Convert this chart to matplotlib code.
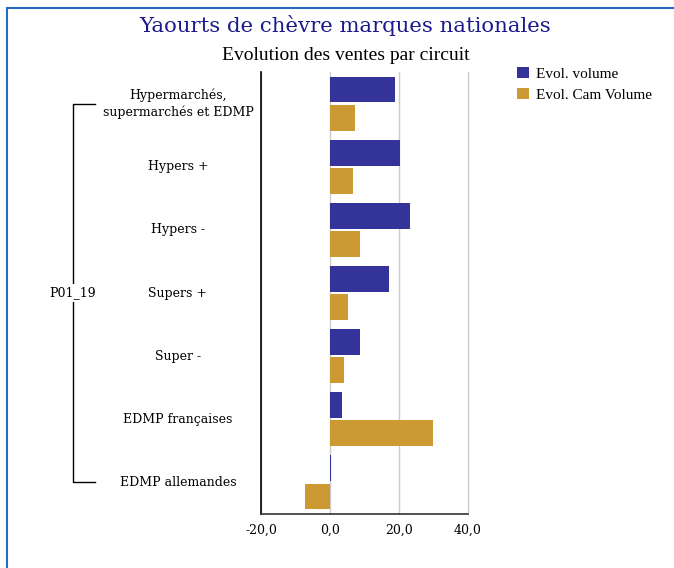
import numpy as np
import matplotlib
matplotlib.use("Agg")
import matplotlib.pyplot as plt
from matplotlib.patches import Rectangle, Patch
from matplotlib.lines import Line2D
import matplotlib.transforms as mtransforms

categories = ["Hypermarchés,\nsupermarchés et EDMP", "Hypers +", "Hypers -",
              "Supers +", "Super -", "EDMP françaises", "EDMP allemandes"]
evol_volume = [18.8, 20.2, 23.1, 17.1, 8.7, 3.5, 0.3]
evol_cam_volume = [7.2, 6.6, 8.7, 5.2, 4.0, 29.8, -7.2]
series_names = ["Evol. volume", "Evol. Cam Volume"]
group_name = "P01_19"
xticks = [-20, 0, 20, 40]
xtick_labels = ["-20,0", "0,0", "20,0", "40,0"]

blue = "#333399"
gold = "#cc9933"
title_col = "#1a1a8c"

fig = plt.figure(figsize=(6.74, 5.68), dpi=100)
W, H = 674, 568

def fx(px):
    return px / W

def fy(py):
    return 1 - py / H

ax = fig.add_axes([fx(261), fy(514), fx(468) - fx(261), fy(72) - fy(514)])

y = np.arange(len(categories))
h = 0.41
ax.barh(y - 0.222, evol_volume, height=h, color=blue, zorder=3)
ax.barh(y + 0.222, evol_cam_volume, height=h, color=gold, zorder=3)

ax.set_xlim(-20, 40)
ax.set_ylim(len(categories) - 0.5, -0.5)
ax.set_xticks(xticks)
ax.set_xticklabels(xtick_labels, family="DejaVu Serif", fontsize=9)
ax.tick_params(axis="x", length=0, pad=7)
ax.set_yticks([])
ax.grid(axis="x", color="#cccccc", linewidth=1, zorder=0)
for gl in ax.get_xgridlines():
    gl.set_clip_on(False)
for s in ["top", "right"]:
    ax.spines[s].set_visible(False)
ax.spines["left"].set_color("black")
ax.spines["bottom"].set_color("#333333")
ax.spines["left"].set_linewidth(1.2)
ax.spines["bottom"].set_linewidth(1.2)

# category labels and bracket
tr = mtransforms.blended_transform_factory(fig.transFigure, ax.transData)
for i, c in enumerate(categories):
    fig.text(fx(178), i, c, transform=tr, ha="center", va="center",
             family="DejaVu Serif", fontsize=9, linespacing=1.3)

bx0, bx1 = fx(73), fx(95)
fig.add_artist(Line2D([bx1, bx0, bx0, bx1], [0, 0, len(categories) - 1, len(categories) - 1],
                      transform=tr, color="black", linewidth=1))
fig.text(fx(73), (len(categories) - 1) / 2, group_name, transform=tr, ha="center", va="center",
         family="DejaVu Serif", fontsize=9,
         bbox=dict(facecolor="white", edgecolor="none", pad=2))

# titles
fig.text(fx(345), fy(25), "Yaourts de chèvre marques nationales", ha="center", va="center",
         family="DejaVu Serif", fontsize=15.3, color=title_col)
fig.text(fx(346), fy(55), "Evolution des ventes par circuit", ha="center", va="center",
         family="Liberation Serif", fontsize=14, color="black")

# legend
handles = [Patch(facecolor=blue), Patch(facecolor=gold)]
fig.legend(handles, series_names, loc="upper left", bbox_to_anchor=(fx(503), fy(53)),
           frameon=False, handlelength=0.8, handleheight=0.8, handletextpad=0.45,
           labelspacing=0.45, prop={"family": "Liberation Serif", "size": 11})

# blue frame
fig.add_artist(Rectangle((fx(7), -0.1), 1.2, fy(8) + 0.1, transform=fig.transFigure,
                         fill=False, edgecolor="#2a6ac0", linewidth=1.5))

fig.savefig("out.png", dpi=100)
